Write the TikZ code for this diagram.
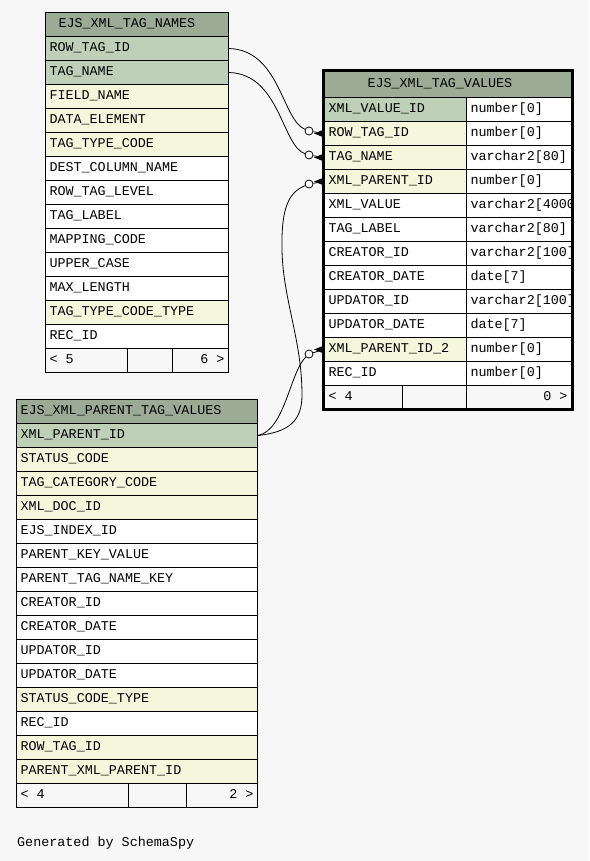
\documentclass[tikz,border=0pt]{standalone}
\usepackage{fontspec}
\setmonofont{Liberation Mono}
\definecolor{bg}{HTML}{F7F7F7}
\definecolor{hd}{HTML}{9BAB96}
\definecolor{pk}{HTML}{BED1B8}
\definecolor{ix}{HTML}{F4F7DC}
\definecolor{wt}{HTML}{FFFFFF}
\newcommand\crowfoot[1]{\fill ([xshift=-10pt]#1.west) -- ([yshift=4pt]#1.west) -- ([yshift=-4pt]#1.west) -- cycle;}
\begin{document}
\begin{tikzpicture}[x=1pt,y=-1pt,
  every node/.style={font=\ttfamily\fontsize{13.4}{13.4}\selectfont},
  cell/.style={draw=black, line width=1pt, anchor=north west, minimum height=24pt,
    inner xsep=4pt, inner ysep=0pt, text height=9.5pt, text depth=3.5pt},
  conn/.style={draw=black, line width=0.8pt},
  dot/.style={circle, draw=black, line width=0.8pt, fill=white, inner sep=0pt, minimum size=8pt}]
\fill[bg] (0,0) rectangle (589,861);
\useasboundingbox (0,0) rectangle (589,861);

% ---------- EJS_XML_TAG_NAMES ----------
\node[cell, fill=hd] (ah) at (45,12) {\makebox[175pt][l]{\hspace{9pt}EJS\_XML\_TAG\_NAMES}};
\foreach \t/\c [count=\i] in {ROW\_TAG\_ID/pk, TAG\_NAME/pk, FIELD\_NAME/ix, DATA\_ELEMENT/ix,
  TAG\_TYPE\_CODE/ix, DEST\_COLUMN\_NAME/wt, ROW\_TAG\_LEVEL/wt, TAG\_LABEL/wt, MAPPING\_CODE/wt,
  UPPER\_CASE/wt, MAX\_LENGTH/wt, TAG\_TYPE\_CODE\_TYPE/ix, REC\_ID/wt}
  {\node[cell, fill=\c] (a\i) at (45,{12+24*\i}) {\makebox[175pt][l]{\t}};}
\node[cell, fill=bg] (af1) at (45,348) {\makebox[74pt][l]{< 5}};
\node[cell, fill=bg] (af2) at (127,348) {\makebox[37pt]{}};
\node[cell, fill=bg] (af3) at (172,348) {\makebox[48pt][r]{6 >}};

% ---------- EJS_XML_PARENT_TAG_VALUES ----------
\node[cell, fill=hd] (ph) at (16,399) {\makebox[233pt][l]{EJS\_XML\_PARENT\_TAG\_VALUES}};
\foreach \t/\c [count=\i] in {XML\_PARENT\_ID/pk, STATUS\_CODE/ix, TAG\_CATEGORY\_CODE/ix, XML\_DOC\_ID/ix,
  EJS\_INDEX\_ID/wt, PARENT\_KEY\_VALUE/wt, PARENT\_TAG\_NAME\_KEY/wt, CREATOR\_ID/wt, CREATOR\_DATE/wt,
  UPDATOR\_ID/wt, UPDATOR\_DATE/wt, STATUS\_CODE\_TYPE/ix, REC\_ID/wt, ROW\_TAG\_ID/ix, PARENT\_XML\_PARENT\_ID/ix}
  {\node[cell, fill=\c] (p\i) at (16,{399+24*\i}) {\makebox[233pt][l]{\t}};}
\node[cell, fill=bg] (pf1) at (16,783) {\makebox[104pt][l]{< 4}};
\node[cell, fill=bg] (pf2) at (128,783) {\makebox[50pt]{}};
\node[cell, fill=bg] (pf3) at (186,783) {\makebox[63pt][r]{2 >}};

% ---------- EJS_XML_TAG_VALUES ----------
\node[cell, fill=hd, minimum height=26pt] (vh) at (324,71) {\makebox[239pt][l]{\hspace{39pt}EJS\_XML\_TAG\_VALUES}};
\begin{scope}
\clip (320,90) rectangle (571,400);
\foreach \t/\c/\ty [count=\i] in {XML\_VALUE\_ID/pk/number[0], ROW\_TAG\_ID/ix/number[0], TAG\_NAME/ix/varchar2[80],
  XML\_PARENT\_ID/ix/number[0], XML\_VALUE/wt/varchar2[4000], TAG\_LABEL/wt/varchar2[80], CREATOR\_ID/wt/varchar2[100],
  CREATOR\_DATE/wt/date[7], UPDATOR\_ID/wt/varchar2[100], UPDATOR\_DATE/wt/date[7], XML\_PARENT\_ID\_2/ix/number[0],
  REC\_ID/wt/number[0]}
  {\node[cell, fill=\c] (v\i) at (324,{73+24*\i}) {\makebox[134pt][l]{\t}};
   \node[cell, fill=wt] (vt\i) at (466,{73+24*\i}) {\makebox[97pt][l]{\ty}};}
\end{scope}
\node[cell, fill=bg] (vf1) at (324,385) {\makebox[70pt][l]{< 4}};
\node[cell, fill=bg] (vf2) at (402,385) {\makebox[56pt]{}};
\node[cell, fill=bg] (vf3) at (466,385) {\makebox[97pt][r]{0 >}};
\draw[line width=3pt] (323,71) rectangle (572,409.5);

% ---------- connectors ----------
\node[dot] (o1) at (309,131) {};
\node[dot] (o2) at (309,155) {};
\node[dot] (o3) at (309,184) {};
\node[dot] (o4) at (309,354) {};

\draw[conn] (a1.east) .. controls (280,50) and (282,120) .. (o1);
\draw[conn] (a2.east) .. controls (280,74) and (282,146) .. (o2);
\draw[conn] (p1.east) .. controls (290,432) and (302,420) .. (302,395)
            .. controls (302,340) and (283,300) .. (282,250)
            .. controls (281,205) and (290,192) .. (o3);
\draw[conn] (p1.east) .. controls (285,430) and (290,372) .. (o4);

\draw[conn] (o1) -- (v2.west);
\draw[conn] (o2) -- (v3.west);
\draw[conn] (o3) -- (v4.west);
\draw[conn] (o4) -- (v11.west);
\crowfoot{v2}
\crowfoot{v3}
\crowfoot{v4}
\crowfoot{v11}

\node[anchor=base west, inner sep=0pt] (gen) at (17,846) {Generated by SchemaSpy};
\end{tikzpicture}
\end{document}
